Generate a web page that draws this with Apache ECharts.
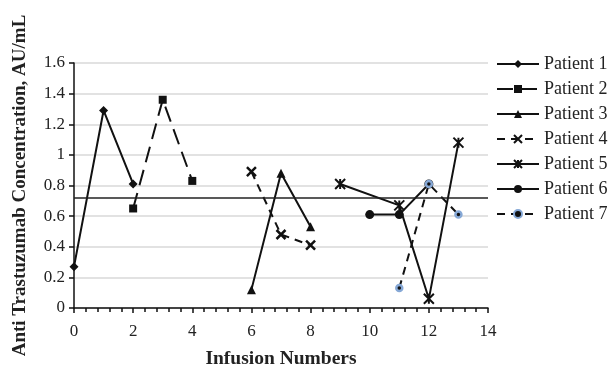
<!DOCTYPE html>
<html><head><meta charset="utf-8">
<script src="https://cdn.jsdelivr.net/npm/echarts@6/dist/echarts.min.js"></script>
<style>html,body{margin:0;padding:0;background:#fff}#c{width:609px;height:367px}</style>
</head><body><div id="c"></div>
<script>
const patient1 = [[0,0.27],[1,1.29],[2,0.81]];
const patient2 = [[2,0.65],[3,1.36],[4,0.83]];
const patient3 = [[6,0.12],[7,0.88],[8,0.53]];
const patient4 = [[6,0.89],[7,0.48],[8,0.41]];
const patient5 = [[9,0.81],[11,0.67],[12,0.06],[13,1.08]];
const patient6 = [[10,0.61],[11,0.61],[12,0.81]];
const patient7 = [[11,0.13],[12,0.81],[13,0.61]];
const cutoff = 0.72;
const seriesNames = ['Patient 1','Patient 2','Patient 3','Patient 4','Patient 5','Patient 6','Patient 7'];

const font = '"Liberation Serif","DejaVu Serif",serif';
const xPath = 'path://M0,0 L10,10 M10,0 L0,10';
const starPath = 'path://M0,0 L10,10 M10,0 L0,10 M5,0 L5,10';

function mk(name, data, opts) {
  return Object.assign({
    name: name, type: 'line', data: data,
    lineStyle: {color: '#111', width: 2, type: 'solid'},
    itemStyle: {color: '#111'},
    symbolSize: 8,
    z: 3
  }, opts);
}

const series = [
  mk(seriesNames[0], patient1, {symbol: 'diamond', symbolSize: 9}),
  mk(seriesNames[1], patient2, {symbol: 'rect', symbolSize: 8, lineStyle: {color:'#111', width:2, type:[16,8]}}),
  mk(seriesNames[2], patient3, {symbol: 'triangle', symbolSize: 9}),
  mk(seriesNames[3], patient4, {symbol: xPath, symbolSize: 9, itemStyle: {color:'#111', borderColor:'#111', borderWidth:2.5}, lineStyle: {color:'#111', width:2, type:[8,6]}}),
  mk(seriesNames[4], patient5, {symbol: starPath, symbolSize: 10, itemStyle: {color:'#111', borderColor:'#111', borderWidth:2}}),
  mk(seriesNames[5], patient6, {symbol: 'circle', symbolSize: 9}),
  mk(seriesNames[6], patient7, {symbol: 'circle', symbolSize: 6, itemStyle: {color:'#111', borderColor:'#86a8d6', borderWidth:2.5}, lineStyle: {color:'#111', width:2, type:[8,6]}})
];
series[0].markLine = {
  silent: true, symbol: ['none','none'], label: {show: false},
  lineStyle: {color: '#222', width: 1.5, type: 'solid'},
  data: [{yAxis: cutoff}]
};

const chart = echarts.init(document.getElementById('c'));
chart.setOption({
  animation: false,
  backgroundColor: '#fff',
  grid: {left: 74, right: 121, top: 63, bottom: 59, outerBoundsMode: 'none', containLabel: false},
  legend: {
    orient: 'vertical', left: 491, top: 50,
    itemWidth: 42, itemHeight: 10, itemGap: 7,
    textStyle: {fontFamily: font, fontSize: 18, color: '#222'},
    data: seriesNames
  },
  xAxis: {
    type: 'value', min: 0, max: 14, interval: 2,
    name: 'Infusion Numbers', nameLocation: 'middle', nameGap: 41,
    nameTextStyle: {fontFamily: font, fontSize: 19.5, fontWeight: 'bold', color: '#222'},
    axisLine: {lineStyle: {color: '#111', width: 1.5}},
    axisTick: {show: true, length: 5, lineStyle: {color:'#111', width: 1.5}},
    minorTick: {show: true, splitNumber: 5, length: 4, lineStyle: {color:'#111', width: 1.5}},
    splitLine: {show: false},
    axisLabel: {fontFamily: font, fontSize: 17, color: '#222', margin: 15}
  },
  yAxis: {
    type: 'value', min: 0, max: 1.6, interval: 0.2,
    name: 'Anti Trastuzumab Concentration, AU/mL', nameLocation: 'middle', nameGap: 44, nameRotate: 90,
    nameTextStyle: {fontFamily: font, fontSize: 19, fontWeight: 'bold', color: '#222'},
    axisLine: {show: true, lineStyle: {color: '#111', width: 1.5}},
    axisTick: {show: true, length: 5, lineStyle: {color:'#111', width: 1.5}},
    splitLine: {show: true, lineStyle: {color: '#d9d9d9', width: 1.5}},
    axisLabel: {fontFamily: font, fontSize: 17, color: '#222', margin: 9,
      formatter: v => String(Math.round(v*10)/10)}
  },
  series: series
});
</script></body></html>
